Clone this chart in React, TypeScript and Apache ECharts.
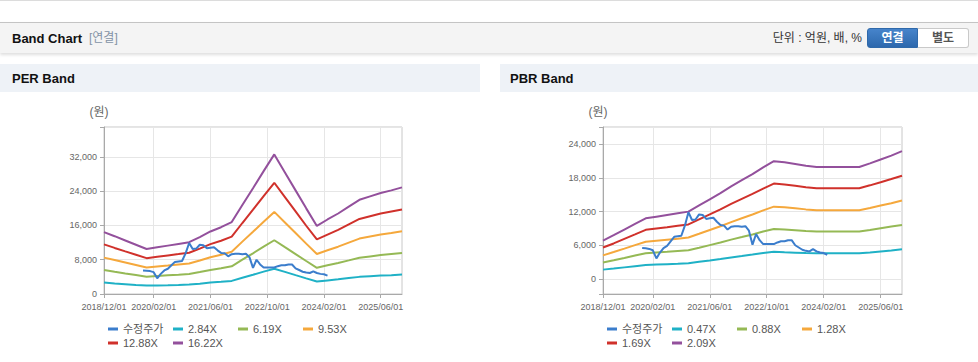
import React, { useEffect, useRef } from 'react';
import * as echarts from 'echarts';

const months = [
  '2018/12/01',
  '2019/01/01', '2019/02/01', '2019/03/01', '2019/04/01', '2019/05/01', '2019/06/01', '2019/07/01', '2019/08/01', '2019/09/01', '2019/10/01', '2019/11/01', '2019/12/01',
  '2020/01/01', '2020/02/01', '2020/03/01', '2020/04/01', '2020/05/01', '2020/06/01', '2020/07/01', '2020/08/01', '2020/09/01', '2020/10/01', '2020/11/01', '2020/12/01',
  '2021/01/01', '2021/02/01', '2021/03/01', '2021/04/01', '2021/05/01', '2021/06/01', '2021/07/01', '2021/08/01', '2021/09/01', '2021/10/01', '2021/11/01', '2021/12/01',
  '2022/01/01', '2022/02/01', '2022/03/01', '2022/04/01', '2022/05/01', '2022/06/01', '2022/07/01', '2022/08/01', '2022/09/01', '2022/10/01', '2022/11/01', '2022/12/01',
  '2023/01/01', '2023/02/01', '2023/03/01', '2023/04/01', '2023/05/01', '2023/06/01', '2023/07/01', '2023/08/01', '2023/09/01', '2023/10/01', '2023/11/01', '2023/12/01',
  '2024/01/01', '2024/02/01', '2024/03/01', '2024/04/01', '2024/05/01', '2024/06/01', '2024/07/01', '2024/08/01', '2024/09/01', '2024/10/01', '2024/11/01', '2024/12/01',
  '2025/01/01', '2025/02/01', '2025/03/01', '2025/04/01', '2025/05/01', '2025/06/01', '2025/07/01', '2025/08/01', '2025/09/01', '2025/10/01', '2025/11/01', '2025/12/01',
];

// band sample dates (quarterly)
const bandDates = [
  '2018/12/01', '2019/03/01', '2019/06/01', '2019/09/01', '2019/12/01', '2020/03/01', '2020/06/01', '2020/09/01', '2020/12/01',
  '2021/03/01', '2021/06/01', '2021/09/01', '2021/12/01', '2022/03/01', '2022/06/01', '2022/09/01', '2022/12/01',
  '2023/03/01', '2023/06/01', '2023/09/01', '2023/12/01', '2024/03/01', '2024/06/01', '2024/09/01', '2024/12/01',
  '2025/03/01', '2025/06/01', '2025/09/01', '2025/12/01',
];

// adjusted price, monthly 2019/11 .. 2024/03
const priceDates = months.slice(11, 64);
const adjPrice = [
  5500, 5450, 5350, 5100, 3650, 4700, 5500, 5900, 6700, 7500, 7600, 7700, 9500, 11900, 10500, 10600, 11500, 11400,
  10700, 10800, 10900, 10200, 9600, 9500, 8800, 9300, 9400, 9400, 9300, 9400, 8600, 6100, 8000, 6900, 6200, 6200,
  6200, 6200, 6500, 6700, 6700, 6900, 6900, 6000, 5600, 5200, 5000, 4900, 5300, 4900, 4700, 4600, 4300,
];

const perNames = ['2.84X', '6.19X', '9.53X', '12.88X', '16.22X'];
const per284 = [2700, 2480, 2300, 2120, 1960, 2010, 2060, 2120, 2200, 2420, 2660, 2840, 3060, 3790, 4500, 5220, 5900, 5170, 4400, 3640, 2900, 3170, 3420, 3710, 4000, 4150, 4300, 4400, 4530];
const per619 = [5600, 5200, 4810, 4430, 4040, 4200, 4350, 4500, 4660, 5120, 5620, 6010, 6470, 8010, 9510, 11050, 12550, 10930, 9320, 7700, 6120, 6700, 7240, 7850, 8470, 8780, 9090, 9320, 9550];
const per953 = [8500, 7940, 7350, 6760, 6170, 6410, 6640, 6880, 7110, 7820, 8580, 9170, 9880, 12230, 14520, 16880, 19170, 16700, 14230, 11760, 9350, 10230, 11050, 12000, 12940, 13410, 13880, 14230, 14640];
const per1288 = [11600, 10760, 9960, 9170, 8370, 8690, 9010, 9320, 9640, 10600, 11640, 12430, 13390, 16580, 19690, 22870, 25980, 22630, 19290, 15940, 12750, 13870, 14980, 16260, 17530, 18170, 18810, 19290, 19750];
const per1622 = [14460, 13500, 12500, 11500, 10500, 10900, 11300, 11700, 12100, 13300, 14600, 15600, 16800, 20800, 24700, 28700, 32600, 28400, 24200, 20000, 15900, 17400, 18800, 20400, 22000, 22800, 23600, 24200, 24900];

const pbrNames = ['0.47X', '0.88X', '1.28X', '1.69X', '2.09X'];
const pbr047 = [1650, 1830, 2050, 2270, 2480, 2560, 2630, 2700, 2780, 3040, 3290, 3550, 3830, 4080, 4340, 4620, 4850, 4760, 4680, 4600, 4550, 4550, 4550, 4550, 4550, 4720, 4900, 5080, 5300];
const pbr088 = [2920, 3310, 3730, 4160, 4580, 4710, 4830, 4960, 5090, 5550, 6020, 6490, 7000, 7460, 7930, 8440, 8900, 8820, 8690, 8560, 8460, 8460, 8460, 8460, 8460, 8730, 9030, 9330, 9600];
const pbr128 = [4200, 4790, 5400, 6020, 6630, 6820, 7000, 7180, 7370, 8040, 8720, 9390, 10130, 10810, 11480, 12220, 12890, 12770, 12590, 12400, 12250, 12250, 12250, 12250, 12250, 12650, 13080, 13510, 14000];
const pbr169 = [5600, 6320, 7130, 7940, 8750, 8990, 9230, 9480, 9720, 10610, 11500, 12390, 13370, 14260, 15150, 16120, 17010, 16850, 16610, 16360, 16160, 16160, 16160, 16160, 16160, 16690, 17250, 17820, 18400];
const pbr209 = [6840, 7800, 8800, 9800, 10800, 11100, 11400, 11700, 12000, 13100, 14200, 15300, 16500, 17600, 18700, 19900, 21000, 20800, 20500, 20200, 19950, 19950, 19950, 19950, 19950, 20600, 21300, 22000, 22800];

const priceName = '수정주가';
const bandColors = ['#1fb1c6', '#95b955', '#f5a83c', '#d0312b', '#93509c'];
const priceColor = '#3b7dcc';

const FONT = '"Liberation Sans", Arial, "Noto Sans CJK KR", sans-serif';

const labelAt = (i: number) => i === 0 || (i >= 14 && (i - 14) % 16 === 0);

function buildSeries(names: string[], bands: number[][], xi: number, suffix: string) {
  const s: any[] = [
    {
      name: priceName,
      type: 'line',
      xAxisIndex: xi,
      yAxisIndex: xi,
      data: priceDates.map((d, i) => [d, adjPrice[i]]),
      showSymbol: false,
      symbol: 'none',
      z: 4,
      lineStyle: { width: 2, color: priceColor },
      itemStyle: { color: priceColor },
      emphasis: { disabled: true },
    },
  ];
  bands.forEach((arr, k) => {
    s.push({
      name: names[k],
      type: 'line',
      xAxisIndex: xi,
      yAxisIndex: xi,
      data: bandDates.map((d, i) => [d, arr[i]]),
      showSymbol: false,
      symbol: 'none',
      connectNulls: true,
      lineStyle: { width: 2, color: bandColors[k] },
      itemStyle: { color: bandColors[k] },
      emphasis: { disabled: true },
    });
  });
  return s;
}

function xAxis(gi: number) {
  return {
    type: 'category',
    gridIndex: gi,
    data: months,
    boundaryGap: false,
    axisLine: { onZero: false, lineStyle: { color: '#a9a9a9' } },
    axisTick: { show: true, interval: labelAt, length: 4, lineStyle: { color: '#a9a9a9' } },
    axisLabel: { interval: labelAt, fontSize: 9, color: '#666', margin: 8, fontFamily: FONT },
    splitLine: { show: true, interval: labelAt, lineStyle: { color: '#e6e6e6' } },
  };
}

const fmt = (step: number) => (v: number) => (v % step === 0 ? v.toLocaleString('en-US') : '');

function legendRows(left: number, names: string[]) {
  const base = {
    left,
    orient: 'horizontal',
    padding: 0,
    itemWidth: 10,
    itemHeight: 3,
    itemGap: 5,
    icon: 'rect',
    selectedMode: false,
    textStyle: { fontSize: 11, color: '#555', width: 45, lineHeight: 14, fontFamily: FONT },
  };
  return [
    { ...base, top: 322, data: [priceName, names[0], names[1], names[2]] },
    { ...base, top: 336, data: [names[3], names[4]] },
  ];
}

export default function App() {
  const ref = useRef<HTMLDivElement>(null);
  useEffect(() => {
    document.body.style.margin = '0';
    if (!ref.current) return;
    const chart = echarts.init(ref.current, null, { renderer: 'svg' });
    const gridCommon = { show: true, borderColor: '#c8c8c8', borderWidth: 1, backgroundColor: '#fff', containLabel: false };
    const yCommon = {
      type: 'value',
      axisLine: { show: true, lineStyle: { color: '#a9a9a9' } },
      axisTick: { show: true, length: 4, lineStyle: { color: '#a9a9a9' } },
      splitLine: { show: true, lineStyle: { color: '#e6e6e6' } },
      name: '(원)',
      nameLocation: 'end',
      nameGap: 9,
      nameTextStyle: { fontSize: 12, color: '#666', padding: [0, 10, 0, 0], fontFamily: FONT },
    };
    chart.setOption({
      animation: false,
      textStyle: { fontFamily: FONT },
      grid: [
        { ...gridCommon, left: 104, top: 127, width: 298, height: 167 },
        { ...gridCommon, left: 603, top: 127, width: 299, height: 167 },
      ],
      xAxis: [xAxis(0), xAxis(1)],
      yAxis: [
        {
          ...yCommon,
          gridIndex: 0,
          min: 0,
          max: 39000,
          interval: 8000,
          axisLabel: { formatter: fmt(8000), fontSize: 9, color: '#666', margin: 7, fontFamily: FONT },
        },
        {
          ...yCommon,
          gridIndex: 1,
          min: -2700,
          max: 27100,
          minInterval: 6000,
          maxInterval: 6000,
          axisLabel: { formatter: fmt(6000), fontSize: 9, color: '#666', margin: 7, fontFamily: FONT },
        },
      ],
      legend: [...legendRows(108, perNames), ...legendRows(607, pbrNames)],
      series: [
        ...buildSeries(perNames, [per284, per619, per953, per1288, per1622], 0, 'per'),
        ...buildSeries(pbrNames, [pbr047, pbr088, pbr128, pbr169, pbr209], 1, 'pbr'),
      ],
    });
    return () => chart.dispose();
  }, []);

  const abs = (s: React.CSSProperties): React.CSSProperties => ({ position: 'absolute', ...s });

  return (
    <div style={{ position: 'relative', width: 978, height: 362, background: '#fff', overflow: 'hidden', fontFamily: FONT }}>
      <div style={abs({ left: 0, top: 0, width: 978, height: 1, background: '#dcdcdc' })} />
      <div
        style={abs({
          left: 0,
          top: 22,
          width: 978,
          height: 31,
          background: '#f4f4f4',
          borderTop: '1px solid #c4c4c4',
          boxSizing: 'border-box',
          boxShadow: '0 2px 3px rgba(0,0,0,0.13)',
        })}
      />
      <div style={abs({ left: 12, top: 30, height: 17, lineHeight: '17px', fontSize: 13, fontWeight: 'bold', color: '#111' })}>Band Chart</div>
      <div style={abs({ left: 89, top: 30, height: 17, lineHeight: '17px', fontSize: 12, color: '#8393a6' })}>[연결]</div>
      <div style={abs({ right: 116, top: 30, height: 17, lineHeight: '17px', fontSize: 12, color: '#333', whiteSpace: 'nowrap' })}>단위 : 억원, 배, %</div>
      <div
        style={abs({
          left: 867,
          top: 28,
          width: 51,
          height: 20,
          boxSizing: 'border-box',
          background: 'linear-gradient(#4684cb, #2d68ad)',
          border: '1px solid #2f69aa',
          borderRadius: '3px 0 0 3px',
          color: '#fff',
          fontSize: 12,
          fontWeight: 'bold',
          textAlign: 'center',
          lineHeight: '18px',
        })}
      >
        연결
      </div>
      <div
        style={abs({
          left: 918,
          top: 28,
          width: 51,
          height: 20,
          boxSizing: 'border-box',
          background: '#fff',
          border: '1px solid #c9c9c9',
          borderLeft: 'none',
          borderRadius: '0 3px 3px 0',
          color: '#555',
          fontSize: 12,
          fontWeight: 'bold',
          textAlign: 'center',
          lineHeight: '18px',
        })}
      >
        별도
      </div>
      <div style={abs({ left: 0, top: 64, width: 480, height: 28, background: '#eef2f7' })} />
      <div style={abs({ left: 500, top: 64, width: 478, height: 28, background: '#eef2f7' })} />
      <div style={abs({ left: 12, top: 70, height: 17, lineHeight: '17px', fontSize: 13, fontWeight: 'bold', color: '#111' })}>PER Band</div>
      <div style={abs({ left: 510, top: 70, height: 17, lineHeight: '17px', fontSize: 13, fontWeight: 'bold', color: '#111' })}>PBR Band</div>
      <div ref={ref} style={abs({ left: 0, top: 0, width: 978, height: 362 })} />
    </div>
  );
}
